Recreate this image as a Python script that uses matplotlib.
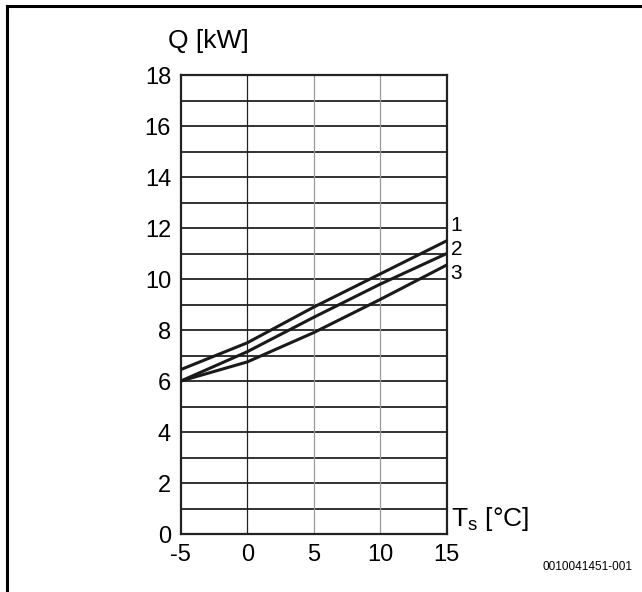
import matplotlib.pyplot as plt
from matplotlib import font_manager

names = {f.name for f in font_manager.fontManager.ttflist}
fam = 'Liberation Sans Narrow' if 'Liberation Sans Narrow' in names else 'Liberation Sans'
plt.rcParams['font.family'] = [fam, 'DejaVu Sans']
plt.rcParams['axes.unicode_minus'] = False

# outdoor temperature Ts [°C] and heat output Q [kW]
ts = [-5, 0, 5, 10, 15]
q1 = [6.45, 7.5, 8.9, 10.2, 11.5]
q2 = [6.0, 7.15, 8.5, 9.8, 11.0]
q3 = [6.0, 6.75, 7.9, 9.2, 10.55]
curve_labels = ['1', '2', '3']
label_y = [12.1, 11.15, 10.2]

fig = plt.figure(figsize=(6.42, 5.92), dpi=100)
ax = fig.add_axes([0.2815, 0.0978, 0.4143, 0.7755])

# grid
for yv in range(1, 18):
    ax.axhline(yv, color='#222222', lw=1.3, zorder=1)
ax.axvline(0, color='#222222', lw=0.9, zorder=1)
for xv in [5, 10]:
    ax.axvline(xv, color='#999999', lw=0.9, zorder=1)

for q in [q1, q2, q3]:
    ax.plot(ts, q, color='#1a1a1a', lw=2.2, solid_capstyle='butt', zorder=3)

for lab, yv in zip(curve_labels, label_y):
    ax.text(15.3, yv, lab, fontsize=15, va='center', ha='left', clip_on=False)

ax.set_xlim(-5, 15)
ax.set_ylim(0, 18)
ax.set_xticks([-5, 0, 5, 10, 15])
ax.set_yticks([0, 2, 4, 6, 8, 10, 12, 14, 16, 18])
ax.tick_params(length=0, labelsize=17, pad=7)
for s in ax.spines.values():
    s.set_linewidth(1.6)
    s.set_color('#222222')

fig.text(0.262, 0.93, 'Q [kW]', fontsize=19, ha='left', va='center')
fig.text(0.703, 0.123, 'T$_\\mathregular{s}$ [°C]', fontsize=19, ha='left', va='center')
fig.text(0.985, 0.042, '0010041451-001', fontsize=8.5, ha='right', va='center')

# frame around the figure (top and left edges visible)
fig.add_artist(plt.Line2D([0.011, 1.0], [0.9895, 0.9895], color='black', lw=2.2))
fig.add_artist(plt.Line2D([0.011, 0.011], [0.0, 0.9895], color='black', lw=2.2))

fig.savefig('out.png', dpi=100)
